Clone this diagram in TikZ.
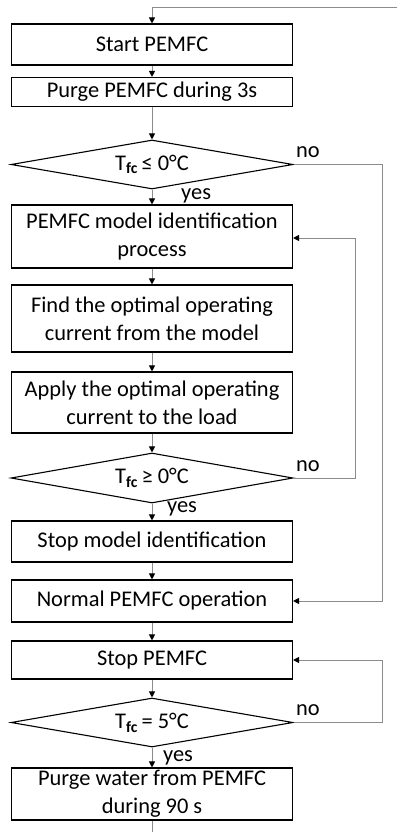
\documentclass[tikz,border=0pt]{standalone}
\usepackage{fontspec}
\setmainfont{Carlito}
\usetikzlibrary{shapes.geometric,arrows.meta}
\definecolor{linegray}{RGB}{140,140,140}
\newcommand{\mainsz}{\fontsize{22.5}{28}\selectfont}
\newcommand{\Tfc}{T\textsubscript{\textbf{fc}}}
\begin{document}
\begin{tikzpicture}[x=1bp,y=-1bp,
  box/.style={draw=black,line width=1.1bp,minimum width=281bp,inner sep=0pt,
              align=center,font=\mainsz},
  decision/.style={diamond,aspect=5.75,draw=black,line width=1.1bp,minimum width=282bp,
                   inner sep=0pt,font=\mainsz},
  flow/.style={draw=linegray,line width=1bp,
               -{Triangle[length=6bp,width=6bp,color=black]}},
  plain/.style={draw=linegray,line width=1bp},
  lbl/.style={font=\mainsz,inner sep=0pt,anchor=base west}]
\useasboundingbox (0,0) rectangle (402,832);

% process steps and decisions
\node[box,minimum height=41bp] (start) at (152,44.5) {Start PEMFC};
\node[box,minimum height=29bp] (purge) at (152,92) {Purge PEMFC during 3s};
\node[decision,minimum height=49bp] (d1) at (152,164.5) {\Tfc{\,}≤ 0°C};
\node[box,minimum height=63bp] (ident) at (152,236.5) {PEMFC model identification\\process};
\node[box,minimum height=67bp] (find) at (152,318.5) {Find the optimal operating\\current from the model};
\node[box,minimum height=61bp] (apply) at (152,402.5) {Apply the optimal operating\\current to the load};
\node[decision,minimum height=50bp] (d2) at (152,478) {\Tfc{\,}≥ 0°C};
\node[box,minimum height=41bp] (stopid) at (152,541.5) {Stop model identification};
\node[box,minimum height=42bp] (normal) at (152,601) {Normal PEMFC operation};
\node[box,minimum height=38bp] (stop) at (152,660) {Stop PEMFC};
\node[decision,minimum height=49bp] (d3) at (152,722.5) {\Tfc{\,}= 5°C};
\node[box,minimum height=52bp] (water) at (152,794) {Purge water from PEMFC\\during 90 s};

% loose ends of the outer loop
\coordinate (loopin) at (397,7);
\coordinate (loopout) at (152,832);

% main flow
\draw[flow] (loopin) -- (152,7) -- (start);
\draw[flow] (start) -- (purge);
\draw[flow] (purge) -- (d1);
\draw[flow] (d1) -- (ident);
\draw[flow] (ident) -- (find);
\draw[flow] (find) -- (apply);
\draw[flow] (apply) -- (d2);
\draw[flow] (d2) -- (stopid);
\draw[flow] (stopid) -- (normal);
\draw[flow] (normal) -- (stop);
\draw[flow] (stop) -- (d3);
\draw[flow] (d3) -- (water);
\draw[plain] (water) -- (loopout);

% "no" branches
\draw[flow] (d1.east) -- (382,164.5) |- (normal.east);
\draw[flow] (d2.east) -- (355,478) |- ([yshift=-1.5bp]ident.east);
\draw[flow] (d3.east) -- (382,722.5) |- (stop.east);

% branch labels
\node[lbl] at (296,157) {no};
\node[lbl] at (296,471.5) {no};
\node[lbl] at (296,715) {no};
\node[lbl] at (181,199) {yes};
\node[lbl] at (167,512) {yes};
\node[lbl] at (163,761) {yes};
\end{tikzpicture}
\end{document}
